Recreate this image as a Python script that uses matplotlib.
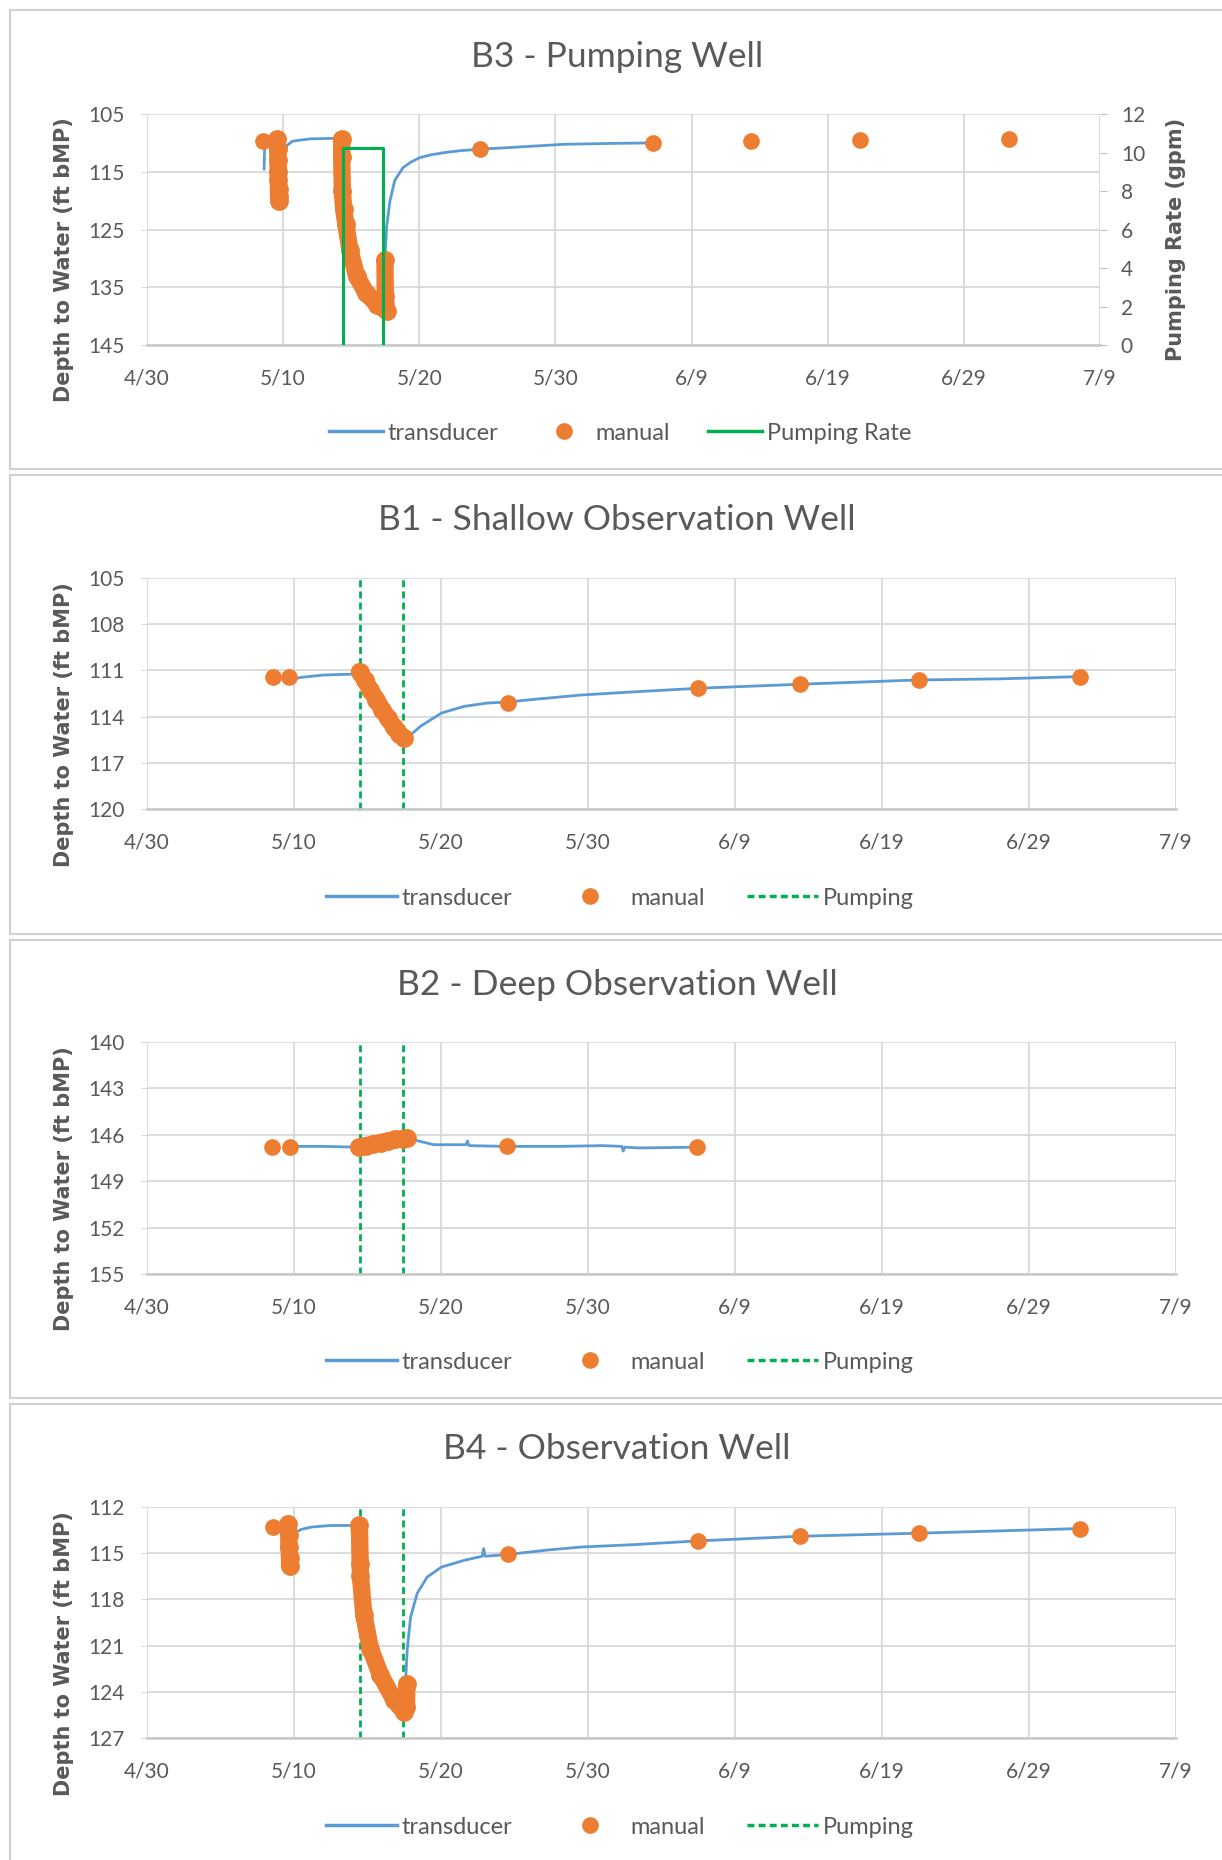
import matplotlib
matplotlib.use('Agg')
import matplotlib.pyplot as plt
from matplotlib.lines import Line2D
from matplotlib.patches import Rectangle

W, H = 1222, 1860
BLUE = '#5B9BD5'
ORANGE = '#ED7D31'
GREEN = '#00B050'
GRID = '#D9D9D9'
TXT = '#595959'
FONT = ['Lato', 'DejaVu Sans']
plt.rcParams['font.family'] = FONT

# ---------------- data (x = days after 4/30) ----------------
x_ticks = [0, 10, 20, 30, 40, 50, 60, 70]
x_tick_labels = ['4/30', '5/10', '5/20', '5/30', '6/9', '6/19', '6/29', '7/9']

# B3 - Pumping Well
b3_trans_day = [8.6, 8.65, 9.0, 9.7, 9.85, 10.1, 10.3, 10.7, 12.0, 14.2, 14.4, 14.6, 15.0, 15.5,
                16.2, 17.0, 17.45, 17.48, 17.6, 17.85, 18.2, 18.8, 19.4, 20.05, 20.9, 21.8, 23.0,
                24.46, 27.4, 30.6, 34.0, 37.2]
b3_trans_dep = [114.5, 110.0, 109.8, 119.0, 115.0, 111.7, 110.4, 109.7, 109.3, 109.2, 110.0, 124.0,
                129.0, 133.0, 136.0, 138.3, 139.0, 130.3, 124.55, 120.0, 116.5, 114.3, 113.3, 112.55,
                112.05, 111.7, 111.35, 111.1, 110.7, 110.25, 110.1, 110.0]
b3_manual_day = [8.5, 24.46, 37.2, 44.4, 52.4, 63.3]
b3_manual_dep = [109.6, 111.1, 110.1, 109.7, 109.5, 109.3]
b3_test1_day = [9.55, 9.6, 9.62, 9.64, 9.65, 9.66, 9.67, 9.68]
b3_test1_dep = [109.4, 111.0, 113.0, 115.0, 116.5, 118.0, 119.2, 120.0]
b3_test2_day = [14.3, 14.3, 14.35, 14.45, 14.6, 14.9, 15.4, 16.1, 16.9, 17.6, 17.5, 17.48]
b3_test2_dep = [109.4, 112.5, 118.3, 121.5, 124.0, 128.5, 133.1, 136.0, 138.0, 139.1, 136.6, 130.3]
b3_rate_day = [14.37, 14.37, 17.35, 17.35]
b3_rate_gpm = [0, 10.25, 10.25, 0]

# B1 - Shallow Observation Well
b1_trans_day = [9.75, 10.5, 12.0, 14.1, 14.46, 15.2, 16.0, 16.8, 17.45, 17.7, 18.6, 20.03, 21.55,
                23.14, 24.57, 26.1, 29.5, 33.0, 37.5, 44.4, 52.5, 58.0, 63.5]
b1_trans_dep = [111.6, 111.45, 111.3, 111.24, 111.08, 112.26, 113.55, 114.7, 115.4, 115.38, 114.63,
                113.77, 113.34, 113.12, 113.05, 112.9, 112.6, 112.4, 112.16, 111.9, 111.62, 111.55,
                111.4]
b1_manual_day = [8.54, 9.65, 24.57, 37.5, 44.4, 52.5, 63.5]
b1_manual_dep = [111.4, 111.45, 113.12, 112.16, 111.9, 111.62, 111.4]
b1_test_day = [14.46, 14.8, 15.2, 15.6, 16.0, 16.4, 16.8, 17.15, 17.45]
b1_test_dep = [111.08, 111.6, 112.26, 112.9, 113.55, 114.1, 114.7, 115.1, 115.4]

# B2 - Deep Observation Well
b2_trans_day = [9.72, 12.0, 14.41, 15.5, 16.5, 17.45, 17.7, 18.04, 19.5, 21.7, 21.8, 21.9, 24.5,
                28.0, 31.0, 32.3, 32.4, 32.5, 33.5, 37.4]
b2_trans_dep = [146.75, 146.75, 146.8, 146.6, 146.4, 146.25, 146.2, 146.3, 146.64, 146.64, 146.4,
                146.7, 146.75, 146.75, 146.7, 146.75, 147.05, 146.8, 146.85, 146.8]
b2_manual_day = [8.52, 9.72, 24.5, 37.4]
b2_manual_dep = [146.79, 146.79, 146.75, 146.8]
b2_test_day = [14.41, 14.9, 15.4, 15.9, 16.4, 16.9, 17.4, 17.7]
b2_test_dep = [146.8, 146.7, 146.6, 146.5, 146.4, 146.3, 146.25, 146.2]

# B4 - Observation Well
b4_trans_day = [10.02, 10.5, 11.2, 12.5, 14.1, 14.5, 15.2, 16.0, 16.8, 17.47, 17.59, 17.7, 17.93,
                18.38, 19.06, 20.03, 21.55, 22.8, 22.9, 23.0, 24.57, 27.2, 29.5, 33.0, 37.5, 44.4,
                52.5, 58.0, 63.5]
b4_trans_dep = [113.7, 113.45, 113.3, 113.2, 113.2, 116.0, 121.0, 123.0, 124.5, 125.3, 123.28,
                121.3, 119.16, 117.6, 116.55, 115.9, 115.47, 115.2, 114.7, 115.2, 115.08, 114.8,
                114.6, 114.45, 114.2, 113.9, 113.7, 113.55, 113.4]
b4_manual_day = [8.54, 24.57, 37.5, 44.4, 52.5, 63.5]
b4_manual_dep = [113.3, 115.08, 114.2, 113.9, 113.7, 113.4]
b4_test1_day = [9.6, 9.65, 9.65, 9.7, 9.7]
b4_test1_dep = [113.1, 113.8, 114.6, 115.3, 115.8]
b4_test2_day = [14.45, 14.5, 14.52, 14.75, 15.2, 15.88, 16.79, 17.47, 17.65, 17.68]
b4_test2_dep = [113.2, 115.7, 116.5, 119.0, 121.2, 122.9, 124.5, 125.3, 125.0, 123.5]

pump_on_off = [14.48, 17.43]

titles = ['B3 - Pumping Well', 'B1 - Shallow Observation Well',
          'B2 - Deep Observation Well', 'B4 - Observation Well']
y_label = 'Depth to Water (ft bMP)'
y2_label = 'Pumping Rate (gpm)'
b3_yticks = [105, 115, 125, 135, 145]
b3_rate_ticks = [0, 2, 4, 6, 8, 10, 12]
b1_yticks = [105, 108, 111, 114, 117, 120]
b2_yticks = [140, 143, 146, 149, 152, 155]
b4_yticks = [112, 115, 118, 121, 124, 127]

# ---------------- figure ----------------
fig = plt.figure(figsize=(W / 100, H / 100), dpi=100)

# panel frames
for top, bot in [(10, 469), (475, 934), (940, 1398), (1404, 1875)]:
    fig.patches.append(Rectangle((10 / W, 1 - bot / H), 1.2, (bot - top) / H,
                                 transform=fig.transFigure, facecolor='white',
                                 edgecolor='#D0D0D0', lw=1.5, zorder=-10))


def make_axes(left, right, top, bottom):
    ax = fig.add_axes([left / W, 1 - bottom / H, (right - left) / W, (bottom - top) / H])
    ax.set_zorder(2)
    return ax


def style(ax, yticks):
    ax.set_xlim(0, 70)
    ax.set_ylim(yticks[-1], yticks[0])
    ax.set_xticks(x_ticks)
    ax.set_xticklabels(x_tick_labels)
    ax.set_yticks(yticks)
    ax.grid(True, color=GRID, lw=1.3)
    ax.set_axisbelow(True)
    for s in ['top', 'left', 'right']:
        ax.spines[s].set_visible(False)
    ax.spines['bottom'].set_color('#C8C8C8')
    ax.spines['bottom'].set_linewidth(1.8)
    ax.tick_params(axis='x', length=0, pad=17, labelsize=15, labelcolor=TXT)
    ax.tick_params(axis='y', length=4, color=GRID, pad=12, labelsize=15, labelcolor=TXT)
    ax.set_facecolor('none')


def title_and_label(title, ty, ycenter):
    fig.text(617 / W, 1 - ty / H, title, ha='center', va='center', fontsize=25.5, color=TXT)
    fig.text(64 / W, 1 - ycenter / H, y_label, rotation=90, ha='center', va='center',
             fontsize=15, color=TXT, family=['DejaVu Sans'], fontweight='semibold')


def draw_well(ax, tday, tdep, mday, mdep, tests):
    ax.plot(tday, tdep, color=BLUE, lw=2.0, zorder=3)
    for d, v in tests:
        ax.plot(d, v, color=ORANGE, lw=12.5, marker='o', ms=12.5, solid_capstyle='round',
                solid_joinstyle='round', zorder=4)
    ax.plot(mday, mdep, 'o', color=ORANGE, ms=11, zorder=4)


trans_h = Line2D([], [], color=BLUE, lw=2.5)
man_h = Line2D([], [], color=ORANGE, marker='o', ls='none', ms=11)
rate_h = Line2D([], [], color=GREEN, lw=2.5)
pump_h = Line2D([], [], color=GREEN, lw=2.5, ls=(0, (2.0, 1.2)))


def legend(handles, labels, ly, hl, cs):
    fig.legend(handles, labels, loc='center', bbox_to_anchor=(620 / W, 1 - ly / H),
               ncol=3, frameon=False, fontsize=17, labelcolor=TXT, handlelength=hl,
               handletextpad=0.2, columnspacing=cs)


# --- B3 ---
ax1 = make_axes(147, 1100, 114, 345)
style(ax1, b3_yticks)
draw_well(ax1, b3_trans_day, b3_trans_dep, b3_manual_day, b3_manual_dep,
          [(b3_test1_day, b3_test1_dep), (b3_test2_day, b3_test2_dep)])
ax1r = ax1.twinx()
ax1r.set_zorder(3)
ax1r.set_ylim(b3_rate_ticks[0], b3_rate_ticks[-1])
ax1r.set_yticks(b3_rate_ticks)
ax1r.plot(b3_rate_day, b3_rate_gpm, color=GREEN, lw=2.2, zorder=5)
for s in ['top', 'left', 'right', 'bottom']:
    ax1r.spines[s].set_visible(False)
ax1r.tick_params(axis='y', length=5, color='#BFBFBF', pad=10, labelsize=15, labelcolor=TXT)
fig.text(1176 / W, 1 - 239 / H, y2_label, rotation=90, ha='center', va='center',
         fontsize=15, color=TXT, family=['DejaVu Sans'], fontweight='semibold')
title_and_label(titles[0], 57, 229 + 31)
legend([trans_h, man_h, rate_h], ['transducer', 'manual', 'Pumping Rate'], 433, 2.3, 1.6)

# --- B1, B2, B4 ---
panels = [
    (b1_yticks, b1_trans_day, b1_trans_dep, b1_manual_day, b1_manual_dep,
     [(b1_test_day, b1_test_dep)], 578, 809, 520, 898),
    (b2_yticks, b2_trans_day, b2_trans_dep, b2_manual_day, b2_manual_dep,
     [(b2_test_day, b2_test_dep)], 1042, 1274, 985, 1362),
    (b4_yticks, b4_trans_day, b4_trans_dep, b4_manual_day, b4_manual_dep,
     [(b4_test1_day, b4_test1_dep), (b4_test2_day, b4_test2_dep)], 1507, 1738, 1449, 1827),
]
for i, (yt, td, tv, md, mv, tests, top, bot, ty, ly) in enumerate(panels):
    ax = make_axes(147, 1176, top, bot)
    style(ax, yt)
    for p in pump_on_off:
        ax.axvline(p, color=GREEN, lw=2.0, ls=(0, (2.5, 1.5)), zorder=2)
    draw_well(ax, td, tv, md, mv, tests)
    title_and_label(titles[i + 1], ty, (top + bot) / 2 + 31)
    legend([trans_h, man_h, pump_h], ['transducer', 'manual', 'Pumping'], ly, 3.0, 1.8)

fig.savefig('out.png', dpi=100, facecolor='white')
